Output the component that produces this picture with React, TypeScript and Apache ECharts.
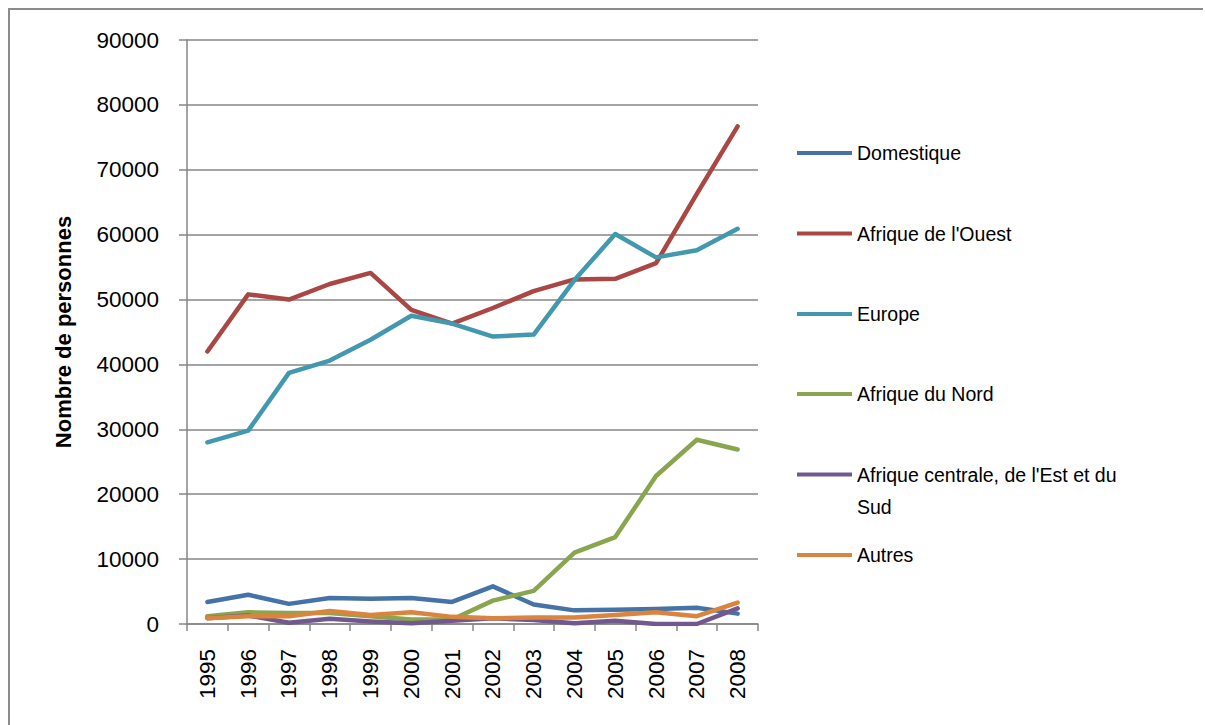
import React, { useEffect, useRef } from "react";
import * as echarts from "echarts";

const years = ["1995","1996","1997","1998","1999","2000","2001","2002","2003","2004","2005","2006","2007","2008"];
const seriesNames = ["Domestique","Afrique de l'Ouest","Europe","Afrique du Nord","Afrique centrale, de l'Est et du Sud","Autres"];
const domestique = [3400, 4500, 3100, 4000, 3900, 4000, 3400, 5800, 3000, 2100, 2200, 2300, 2500, 1600];
const afriqueOuest = [42000, 50800, 50000, 52400, 54100, 48400, 46300, 48700, 51300, 53100, 53200, 55600, 66300, 76700];
const europe = [28000, 29800, 38700, 40600, 43800, 47500, 46300, 44300, 44600, 53000, 60100, 56500, 57600, 60900];
const afriqueNord = [1200, 1800, 1700, 1700, 1200, 700, 700, 3600, 5100, 11000, 13400, 22800, 28400, 26900];
const afriqueCentrale = [900, 1300, 200, 800, 400, 100, 500, 900, 600, 100, 500, 0, 0, 2400];
const autres = [900, 1200, 1200, 2000, 1400, 1800, 1100, 900, 1000, 1000, 1400, 1800, 1200, 3300];
const yTicks = { min: 0, max: 90000, interval: 10000 };

const colors = ["#4572A7", "#AA4643", "#4198AF", "#89A54E", "#71588F", "#DB843D"];
const values = [domestique, afriqueOuest, europe, afriqueNord, afriqueCentrale, autres];
const legendCenters = [153, 233.5, 314, 394, 474.5, 555];

const FONT = "'Liberation Sans', Arial, sans-serif";

export default function App() {
  const ref = useRef<HTMLDivElement>(null);
  useEffect(() => {
    if (!ref.current) return;
    const chart = echarts.init(ref.current, undefined, { renderer: "svg" });
    const legendLH = 24;
    const legends = seriesNames.map((name, i) => {
      const wrapped = i === 4;
      return {
        data: [name],
        left: 797,
        top: wrapped ? legendCenters[i] - 48 : legendCenters[i] - legendLH / 2,
        padding: 0,
        icon: "rect",
        itemWidth: 55,
        itemHeight: 4,
        itemGap: 0,
        selectedMode: false,
        formatter: wrapped ? "\u00a0\nAfrique centrale, de l'Est et du\nSud" : "{name}",
        textStyle: wrapped
          ? { fontFamily: FONT, fontSize: 19.5, color: "#000", lineHeight: 32 }
          : { fontFamily: FONT, fontSize: 19.5, color: "#000", lineHeight: legendLH },
      };
    });
    chart.setOption({
      animation: false,
      backgroundColor: "#fff",
      grid: { left: 187, top: 40, right: 447, bottom: 101, containLabel: false },
      legend: legends,
      graphic: [
        {
          type: "polyline",
          shape: { points: [[9, 740], [9, 9], [1203, 9]] },
          style: { stroke: "#8c8c8c", lineWidth: 2, fill: "none" },
          silent: true,
        },
      ],
      xAxis: {
        type: "category",
        data: years,
        boundaryGap: true,
        axisLine: { lineStyle: { color: "#868686", width: 1.5 } },
        axisTick: { show: true, length: 7, lineStyle: { color: "#868686", width: 1.5 } },
        axisLabel: { rotate: 90, margin: 25, fontFamily: FONT, fontSize: 22.5, color: "#000", interval: 0 },
        splitLine: { show: false },
      },
      yAxis: {
        type: "value",
        min: yTicks.min,
        max: yTicks.max,
        interval: yTicks.interval,
        name: "Nombre de personnes",
        nameLocation: "middle",
        nameRotate: 90,
        nameGap: 113,
        nameTextStyle: { fontFamily: FONT, fontSize: 22, fontWeight: "bold", color: "#000" },
        axisLine: { show: true, lineStyle: { color: "#868686", width: 1.5 } },
        axisTick: { show: true, inside: false, length: 8, lineStyle: { color: "#868686", width: 1.5 } },
        axisLabel: {
          margin: 28,
          fontFamily: FONT,
          fontSize: 22.5,
          color: "#000",
          formatter: (v: number) => String(v),
        },
        splitLine: { show: true, lineStyle: { color: "#868686", width: 1.5 } },
      },
      series: seriesNames.map((name, i) => ({
        name,
        type: "line",
        data: values[i],
        showSymbol: false,
        symbol: "none",
        color: colors[i],
        lineStyle: { width: 4.5, color: colors[i], cap: "round", join: "round" },
      })),
    });
    return () => chart.dispose();
  }, []);
  return (
    <div
      ref={ref}
      style={{ position: "fixed", left: 0, top: 0, width: 1205, height: 725, background: "#fff" }}
    />
  );
}
